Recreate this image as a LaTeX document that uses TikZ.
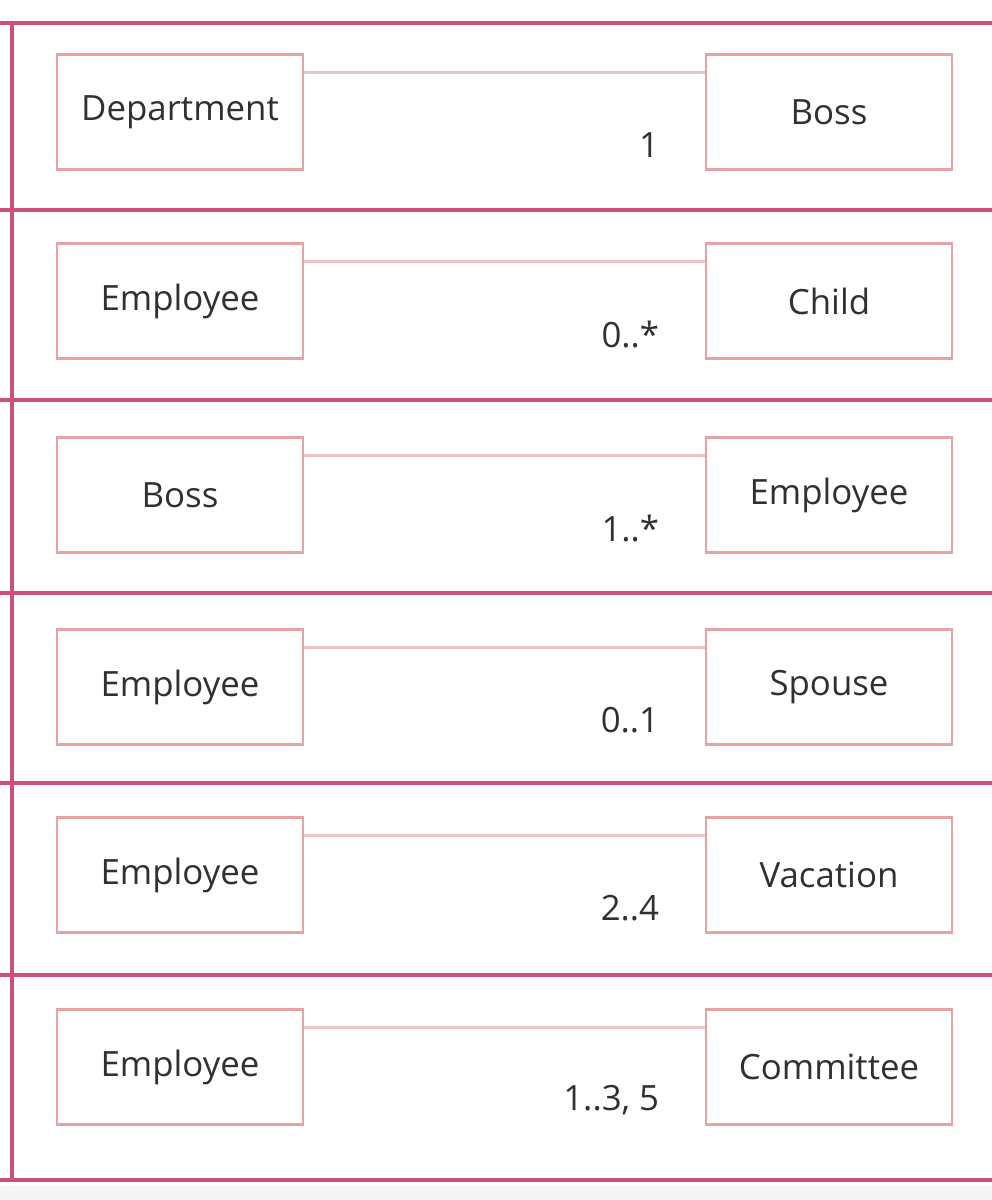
\documentclass[tikz,border=0pt]{standalone}
\usepackage{fontspec}
\setmainfont{Open Sans}
\usetikzlibrary{positioning}

\definecolor{rulered}{HTML}{CC4F7C}
\definecolor{boxred}{HTML}{E8A2A6}
\definecolor{linkred}{HTML}{F0C4C6}
\definecolor{ink}{HTML}{303030}

\tikzset{
	klasse/.style = {draw = boxred, line width = 0.6pt, minimum width = 2.46cm, minimum height = 1.15cm, inner sep = 0pt, text = ink, font = \fontsize{9.9}{12}\selectfont},
	link/.style = {draw = linkred, line width = 0.95pt},
	mult/.style = {anchor = east, inner sep = 0pt, text = ink, font = \fontsize{9.9}{12}\selectfont},
	divider/.style = {draw = rulered, line width = 1.1pt}
}

\begin{document}
\begin{tikzpicture}[x = 0.01cm, y = -0.01cm]
				%	canvas
				\useasboundingbox (0, 0) rectangle (992, 1200);
				\fill[black!4] (0, 1186) rectangle (992, 1200);
				
				%	dividers
				\foreach \y in {23, 210, 400, 593, 783, 975, 1180}
					\draw[divider] (0, \y) -- (992, \y);
				\draw[divider] (12, 23) -- (12, 1180);
				
				%	rows
				\foreach \i/\y/\links/\rechts/\m in {
						1/112/Department/Boss/1,
						2/301/Employee/Child/0..*,
						3/495/Boss/Employee/1..*,
						4/687/Employee/Spouse/0..1,
						5/875/Employee/Vacation/2..4,
						6/1067/Employee/Committee/{1..3, 5}}
				{
					\node[klasse] (L\i) at (180, \y) {\links};
					\node[klasse] (R\i) at (829, \y) {\rechts};
					\draw[link] ([yshift = -0.19cm]L\i.north east) -- ([yshift = -0.19cm]R\i.north west);
					\node[mult] (M\i) at ([xshift = -0.45cm, yshift = -0.33cm]R\i.west) {\m};
				}
\end{tikzpicture}
\end{document}
